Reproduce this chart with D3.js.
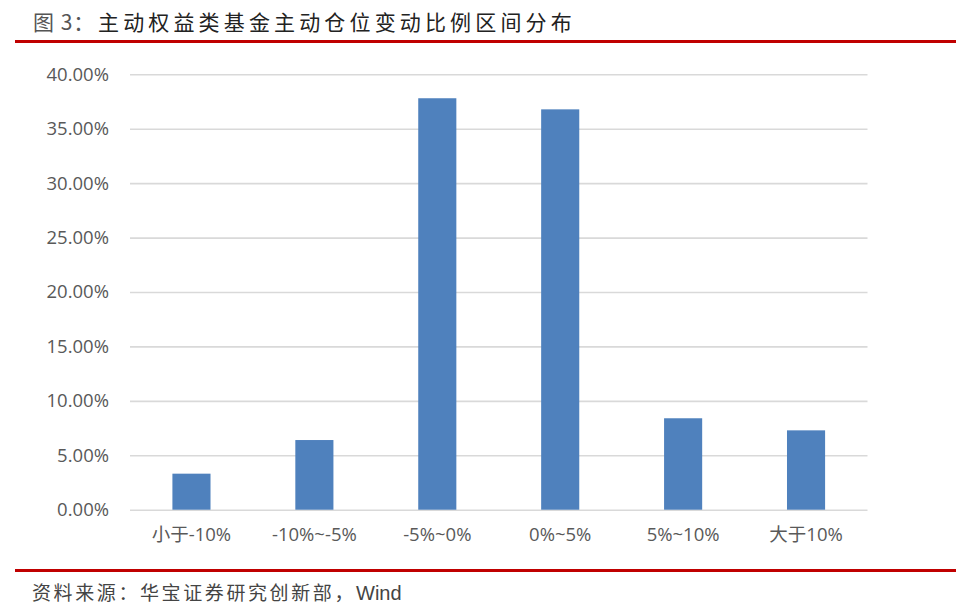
<!DOCTYPE html>
<html>
<head>
<meta charset="utf-8">
<script src="https://cdn.jsdelivr.net/npm/d3@7"></script>
<style>
  html, body { margin: 0; padding: 0; background: #fff; }
  svg { display: block; }
</style>
</head>
<body>
<svg id="chart" width="960" height="613"></svg>
<script>
const categories = ["小于-10%", "-10%~-5%", "-5%~0%", "0%~5%", "5%~10%", "大于10%"];
const values = [3.31, 6.40, 37.80, 36.78, 8.40, 7.29];
const yTicks = [0, 5, 10, 15, 20, 25, 30, 35, 40];
const titlePrefix = "图\u00a03：";
const titleText = "主动权益类基金主动仓位变动比例区间分布";
const sourceText = "资料来源：华宝证券研究创新部，";
const sourceSuffix = "Wind";

const svg = d3.select("#chart");
const latin = "'Open Sans', 'Noto Sans CJK SC', sans-serif";
const cjk = "'Noto Sans CJK SC', sans-serif";

// title
svg.append("text").attr("x", 33).attr("y", 30)
  .attr("font-family", cjk).attr("font-size", 21).attr("fill", "#555")
  .attr("letter-spacing", 1)
  .text(titlePrefix);
svg.append("text").attr("x", 98).attr("y", 30)
  .attr("font-family", cjk).attr("font-size", 21).attr("fill", "#222")
  .attr("letter-spacing", 4.15)
  .text(titleText);

// red rules
svg.append("line").attr("x1", 15).attr("x2", 956).attr("y1", 41.5).attr("y2", 41.5)
  .attr("stroke", "#c00000").attr("stroke-width", 3);
svg.append("line").attr("x1", 15).attr("x2", 956).attr("y1", 570.5).attr("y2", 570.5)
  .attr("stroke", "#c00000").attr("stroke-width", 3);

// source
const src = svg.append("text").attr("x", 32).attr("y", 600)
  .attr("font-family", cjk).attr("font-size", 19).attr("fill", "#444");
src.append("tspan").attr("letter-spacing", 2.6).text(sourceText);
src.append("tspan").attr("font-family", "'Liberation Sans', Arial, sans-serif").attr("font-size", 20).text(sourceSuffix);

// scales
const x = d3.scaleBand().domain(categories).range([130, 867.5]).paddingInner(0).paddingOuter(0);
const y = d3.scaleLinear().domain([0, 40]).range([509.7, 74.3]);
const barW = x.bandwidth() * 0.31;

// gridlines
const yAxis = d3.axisLeft(y).tickValues(yTicks)
  .tickSize(-(867.5 - 130)).tickFormat(d => d.toFixed(2) + "%").tickPadding(20);
const gy = svg.append("g").attr("transform", "translate(130,0)").call(yAxis);
gy.select(".domain").remove();
gy.selectAll(".tick line").attr("stroke", "#d9d9d9").attr("stroke-width", 1.6);
gy.selectAll(".tick text").attr("font-family", latin).attr("font-size", 18.5)
  .attr("fill", "#595959").attr("x", -21);

// bars
svg.append("g").selectAll("rect").data(values).enter().append("rect")
  .attr("x", (d, i) => x(categories[i]) + x.bandwidth() / 2 - barW / 2)
  .attr("width", barW)
  .attr("y", d => y(d))
  .attr("height", d => y(0) - y(d))
  .attr("fill", "#4f81bd");

// x axis labels
const xAxis = d3.axisBottom(x).tickSize(0).tickPadding(18);
const gx = svg.append("g").attr("transform", "translate(0,509.7)").call(xAxis);
gx.select(".domain").remove();
gx.selectAll(".tick text").attr("font-family", latin).attr("font-size", 18.5)
  .attr("fill", "#595959");
</script>
</body>
</html>
